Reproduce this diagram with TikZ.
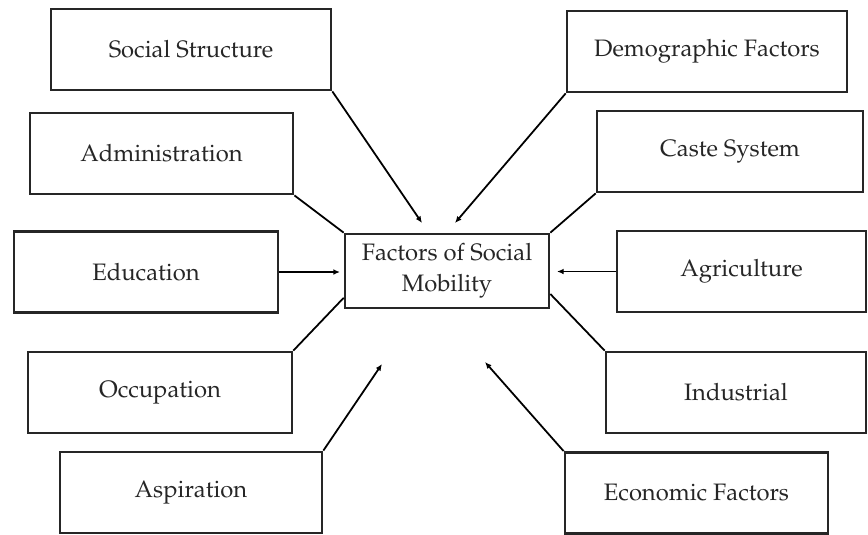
\documentclass[tikz,border=0pt]{standalone}
\usepackage[T1]{fontenc}
\usepackage{mathpazo}
\usepackage{tikz}
\usetikzlibrary{arrows.meta,calc}

\tikzset{
  factor/.style={draw=black!85, line width=1.2pt, inner sep=0pt, minimum height=36.5pt, align=center,
    font=\fontsize{10.7}{14}\selectfont, text=black!85},
  link/.style={line width=0.8pt},
  pointer/.style={link, -{Latex[length=3pt,width=2.6pt]}}
}

\begin{document}
\begin{tikzpicture}[x=0.45pt,y=-0.45pt]
  \useasboundingbox (0,0) rectangle (868,535);

  %Define nodes
  \node[factor, minimum width=91.8pt, minimum height=33.3pt] (fsm) at (447,271) {Factors of Social\\Mobility};

  \node[factor, minimum width=126pt] (soc) at (191,49.5) {Social Structure};
  \node[factor, minimum width=118.4pt] (adm) at (161.5,153.5) {Administration};
  \node[factor, minimum width=118.8pt] (edu) at (146,272) {Education};
  \node[factor, minimum width=118.8pt] (occ) at (160,392.5) {Occupation};
  \node[factor, minimum width=117.9pt] (asp) at (191,492.5) {Aspiration};

  \node[factor, minimum width=126pt] (dem) at (707,51.5) {Demographic Factors};
  \node[factor, minimum width=119.7pt] (cas) at (730,151.5) {Caste System};
  \node[factor, minimum width=112pt] (agr) at (741.5,271.5) {Agriculture};
  \node[factor, minimum width=117pt] (ind) at (736,392.5) {Industrial};
  \node[factor, minimum width=118.4pt] (eco) at (696.5,493) {Economic Factors};

  % free ends of the arrows
  \coordinate (socEnd) at (422,223);
  \coordinate (demEnd) at (455,223);
  \coordinate (eduEnd) at (340,272);
  \coordinate (agrEnd) at (557,271.5);
  \coordinate (aspEnd) at (382,364);
  \coordinate (ecoEnd) at (485,362);

  % Connect the nodes
  \draw[pointer] (soc.south east) -- (socEnd);
  \draw[pointer] (dem.south west) -- (demEnd);
  \draw[pointer] (edu.east) -- (eduEnd);
  \draw[pointer] (agr.west) -- (agrEnd);
  \draw[pointer] (asp.north east) -- (aspEnd);
  \draw[pointer] (eco.north west) -- (ecoEnd);

  \draw[link] (adm.south east) -- (fsm.north west);
  \draw[link] (cas.south west) -- (fsm.north east);
  \draw[link] (occ.north east) -- ($(fsm.south west)!0.15!(fsm.north west)$);
  \draw[link] (ind.north west) -- ($(fsm.south east)!0.2!(fsm.north east)$);

\end{tikzpicture}
\end{document}
